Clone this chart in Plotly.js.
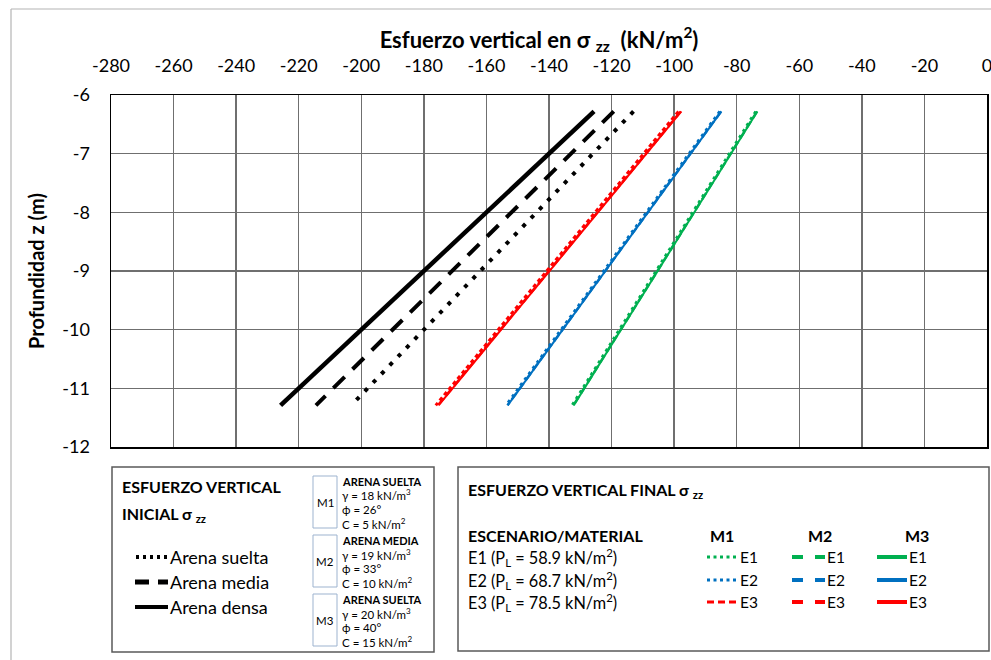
<!DOCTYPE html>
<html>
<head>
<meta charset="utf-8">
<script src="https://cdn.plot.ly/plotly-3.0.1.min.js"></script>
<style>html,body{margin:0;padding:0;background:#fff;}#chart{width:991px;height:660px;}</style>
</head>
<body>
<div id="chart"></div>
<script>
// ---------------- DATA ----------------
const depth = [-6.28, -11.29];                 // profundidad z (m), top and bottom of each line
// Esfuerzo vertical inicial (kN/m2)
const iniSuelta = [-113.0, -203.2];
const iniMedia  = [-119.3, -214.5];
const iniDensa  = [-125.6, -225.8];
// Esfuerzo vertical final (kN/m2) : scenario E1..E3, material M1..M3
const e1m1 = [-73.9, -132.6];
const e1m2 = [-73.5, -132.2];
const e1m3 = [-73.4, -132.1];
const e2m1 = [-85.4, -153.7];
const e2m2 = [-85.0, -153.3];
const e2m3 = [-84.9, -153.2];
const e3m1 = [-98.6, -176.2];
const e3m2 = [-97.9, -175.5];
const e3m3 = [-97.7, -175.3];

const xTicks = [-280,-260,-240,-220,-200,-180,-160,-140,-120,-100,-80,-60,-40,-20,0];
const yTicks = [-12,-11,-10,-9,-8,-7,-6];

const scenarioLabels = ['E1 (P<sub>L</sub> = 58.9 kN/m<sup>2</sup>)',
                        'E2 (P<sub>L</sub> = 68.7 kN/m<sup>2</sup>)',
                        'E3 (P<sub>L</sub> = 78.5 kN/m<sup>2</sup>)'];
const initialLabels = ['Arena suelta','Arena media','Arena densa'];
const materialNames = ['M1','M2','M3'];
const materialInfo = [
  ['ARENA SUELTA','γ = 18 kN/m<sup>3</sup>','ϕ = 26°','C = 5 kN/m<sup>2</sup>'],
  ['ARENA MEDIA','γ = 19 kN/m<sup>3</sup>','ϕ = 33°','C = 10 kN/m<sup>2</sup>'],
  ['ARENA SUELTA','γ = 20 kN/m<sup>3</sup>','ϕ = 40°','C = 15 kN/m<sup>2</sup>']
];

// ---------------- STYLE ----------------
const FONT = 'Lato, "Open Sans", sans-serif';
const GREEN = '#00B050', BLUE = '#0070C0', RED = '#FF0000';
const W = 991, H = 660, L = 111, R = 987, T = 95, B = 447;
const px = x => (x - L) / (R - L);
const py = y => (B - y) / (B - T);

function tr(x, dash, color, width) {
  return {x: x, y: depth, type: 'scatter', mode: 'lines', hoverinfo: 'skip',
          line: {color: color, width: width, dash: dash}};
}
const traces = [
  tr(iniSuelta, '4px,8px', '#000', 4),
  tr(iniMedia, '16px,11px', '#000', 4),
  tr(iniDensa, 'solid', '#000', 4.5),
  tr(e1m3, 'solid', GREEN, 2), tr(e1m2, '8px,4px', GREEN, 2.5), tr(e1m1, '3px,4px', GREEN, 3),
  tr(e2m3, 'solid', BLUE, 2),  tr(e2m2, '8px,4px', BLUE, 2.5),  tr(e2m1, '3px,4px', BLUE, 3),
  tr(e3m3, 'solid', RED, 2),   tr(e3m2, '8px,4px', RED, 2.5),   tr(e3m1, '4px,3px', RED, 3)
];

const shapes = [];
const annotations = [];
function line(x0, y0, x1, y1, color, width, dash) {
  shapes.push({type: 'line', xref: 'paper', yref: 'paper', x0: px(x0), y0: py(y0), x1: px(x1), y1: py(y1),
               line: {color: color, width: width, dash: dash || 'solid'}});
}
function rect(x0, y0, x1, y1, color, width) {
  shapes.push({type: 'rect', xref: 'paper', yref: 'paper', x0: px(x0), y0: py(y0), x1: px(x1), y1: py(y1),
               line: {color: color, width: width}, fillcolor: 'rgba(0,0,0,0)'});
}
function text(t, x, y, size, bold, anchor) {
  annotations.push({text: bold ? '<b>' + t + '</b>' : t, xref: 'paper', yref: 'paper',
    x: px(x), y: py(y), xanchor: anchor || 'left', yanchor: 'middle', showarrow: false,
    font: {family: FONT, size: size, color: '#000'}});
}

// outer chart frame (light gray)
line(11, 9, 991, 9, '#b4b4b4', 1.2);
line(11, 9, 11, 660, '#b4b4b4', 1.2);

// ---- left box: initial stress ----
rect(112, 467, 434, 652, '#595959', 1.5);
text('ESFUERZO VERTICAL', 120, 486, 16, true);
text('INICIAL σ <sub>zz</sub>', 120, 514, 16, true);
const iniY = [557, 582, 607];
line(136, iniY[0], 168, iniY[0], '#000', 4, '3px,4px');
line(135, iniY[1], 168, iniY[1], '#000', 5, '14px,9px');
line(135, iniY[2], 168, iniY[2], '#000', 4);
initialLabels.forEach((t, i) => text(t, 168, iniY[i], 18, false));

const boxTops = [476, 535, 594];
materialNames.forEach((m, i) => {
  rect(313, boxTops[i], 337, boxTops[i] + 52, '#9DB3CF', 1);
  text(m, 325, boxTops[i] + 26, 11.5, false, 'center');
  materialInfo[i].forEach((t, j) => text(t, 340, boxTops[i] + 5 + j * 14, j === 0 ? 11 : 11.5, j === 0, 'left'));
});

// ---- right box: final stress ----
rect(458, 467, 989, 651, '#595959', 1.5);
text('ESFUERZO VERTICAL FINAL σ <sub>zz</sub>', 466, 490, 16, true);
text('ESCENARIO/MATERIAL', 466, 535, 16, true);
const scY = [557, 580, 602];
scenarioLabels.forEach((t, i) => text(t, 466, scY[i], 16.3, false));
const colX = [[707, 738], [792, 825], [877, 907]];
const colCenters = [722, 820, 917];
materialNames.forEach((m, i) => text(m, colCenters[i], 535, 16, true, 'center'));
const colors = [GREEN, BLUE, RED];
const m1Dash = ['3px,3.5px', '3px,3.5px', '7px,4px'];
colors.forEach((c, i) => {
  line(colX[0][0], scY[i], colX[0][1], scY[i], c, 3, m1Dash[i]);
  line(colX[1][0], scY[i], colX[1][1], scY[i], c, 4, '11px,12px');
  line(colX[2][0], scY[i], colX[2][1], scY[i], c, 4);
  colX.forEach(cx => text('E' + (i + 1), cx[1], scY[i], 15.5, false));
});

const layout = {
  width: W, height: H,
  margin: {l: L, r: W - R, t: T, b: H - B, pad: 0},
  paper_bgcolor: '#fff', plot_bgcolor: '#fff',
  showlegend: false,
  font: {family: FONT, color: '#000'},
  title: {text: '<b>Esfuerzo vertical en σ <sub>zz</sub>  (kN/m<sup>2</sup>)</b>',
          x: 539 / W, xanchor: 'center', y: 1 - 40 / H, yanchor: 'middle',
          font: {family: FONT, size: 22, color: '#000'}},
  xaxis: {side: 'top', range: [-280, 0], tickvals: xTicks, ticktext: xTicks.map(String),
          showgrid: true, gridcolor: '#6f6f6f', gridwidth: 1.3, zeroline: false,
          showline: true, linecolor: '#000', linewidth: 1.5, mirror: true,
          ticks: '', ticklabelstandoff: 14, ticklabeloverflow: 'allow',
          tickfont: {family: FONT, size: 18, color: '#000'}},
  yaxis: {range: [-12, -6], tickvals: yTicks, ticktext: yTicks.map(String),
          showgrid: true, gridcolor: '#6f6f6f', gridwidth: 1.3, zeroline: false,
          showline: true, linecolor: '#000', linewidth: 1.5, mirror: true,
          ticks: '', ticklabelstandoff: 16, ticklabeloverflow: 'allow',
          tickfont: {family: FONT, size: 18, color: '#000'},
          title: {text: '<b>Profundidad z (m)</b>', standoff: 12, font: {family: FONT, size: 20, color: '#000'}}},
  shapes: shapes,
  annotations: annotations
};

Plotly.newPlot('chart', traces, layout, {staticPlot: true, displayModeBar: false});
</script>
</body>
</html>
